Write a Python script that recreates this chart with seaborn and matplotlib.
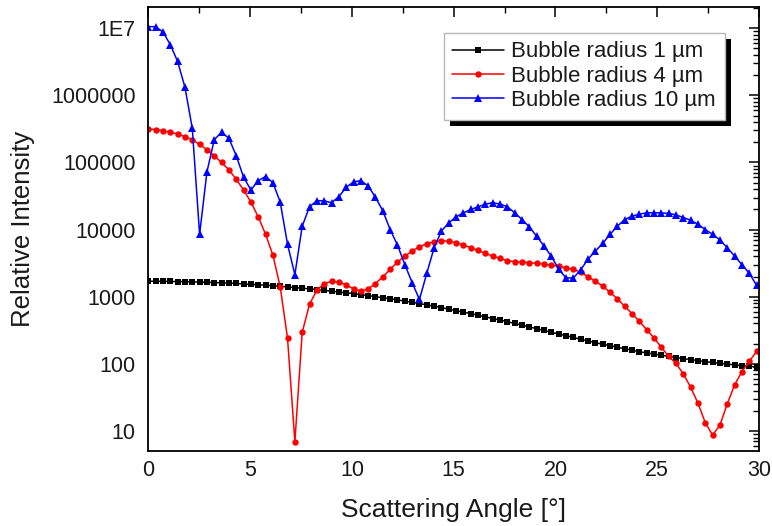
import numpy as np
import pandas as pd
import matplotlib
matplotlib.use("Agg")
import matplotlib.pyplot as plt
import seaborn as sns
from matplotlib.patches import Rectangle
from matplotlib.transforms import IdentityTransform
from matplotlib.ticker import MultipleLocator, LogLocator, NullFormatter

# ---- data ----
angle_step = 0.36
angles = [round(i * angle_step, 2) for i in range(84)]

radius_1um = [1706, 1702, 1694, 1690, 1683, 1679, 1667, 1656, 1641, 1626,
              1614, 1600, 1578, 1556, 1531, 1510, 1486, 1462, 1432, 1400,
              1371, 1340, 1312, 1279, 1245, 1211, 1178, 1146, 1114, 1076,
              1040, 1002, 968, 935, 899, 861, 826, 791, 757, 724,
              689, 655, 621, 590, 561, 531, 502, 474, 449, 424,
              400, 377, 355, 334, 315, 296, 279, 263, 248, 233,
              220, 207, 196, 187, 177, 168, 160, 152, 146, 140,
              135, 129, 124, 120, 116, 112, 108, 105, 102, 99,
              97, 94, 92, 90]

radius_4um = [316000, 308000, 298000, 282000, 266000, 242000, 218000, 186000, 155000, 126000,
              100000, 77600, 56200, 38900, 25700, 15500, 8510, 4170, 1406, 240,
              6.9, 295, 776, 1250, 1574, 1698, 1648, 1507, 1312, 1208,
              1312, 1574, 1982, 2553, 3281, 4027, 4786, 5572, 6166, 6607,
              6855, 6683, 6397, 5888, 5370, 4898, 4426, 4027, 3715, 3467,
              3311, 3281, 3214, 3133, 3062, 2951, 2858, 2692, 2570, 2323,
              1982, 1706, 1436, 1167, 931, 721, 561, 431, 324, 243,
              178, 129, 102, 71, 45, 26, 13.3, 8.7, 12.3, 25.4,
              48.8, 76.9, 109, 153]

radius_10um = [10570000, 10500000, 8810000, 5690000, 3200000, 1318000, 324000, 8510, 72400, 218800,
               281800, 229000, 125900, 60300, 38900, 53700, 61700, 50100, 25700, 6030,
               2138, 11220, 21900, 26900, 26900, 25100, 30900, 42700, 51300, 53700,
               44700, 30200, 19050, 10000, 5890, 3020, 1622, 912, 2239, 5370,
               9550, 12590, 15490, 17780, 19950, 21880, 23990, 25120, 23990, 21880,
               17780, 14130, 10960, 7943, 5690, 3981, 2570, 1905, 1905, 2512,
               3631, 4786, 6237, 8511, 11220, 14130, 15850, 16980, 17780, 17780,
               17780, 17380, 16600, 15140, 13800, 12020, 10000, 8511, 7000, 5370,
               4027, 3020, 2239, 1479]

series_labels = ["Bubble radius 1 \u00b5m", "Bubble radius 4 \u00b5m", "Bubble radius 10 \u00b5m"]
series_colors = ["#000000", "#ff0000", "#0000ff"]
series_markers = ["s", "o", "^"]
series_sizes = [4.2, 4.6, 5.4]

ytick_values = [10, 100, 1000, 10000, 100000, 1000000, 10000000]
ytick_labels = ["10", "100", "1000", "10000", "100000", "1000000", "1E7"]
xtick_values = [0, 5, 10, 15, 20, 25, 30]

df = pd.DataFrame({
    "angle": angles * 3,
    "intensity": radius_1um + radius_4um + radius_10um,
    "series": [series_labels[0]] * 84 + [series_labels[1]] * 84 + [series_labels[2]] * 84,
})

# ---- style ----
sns.set_theme(style="white")
plt.rcParams["font.family"] = ["Liberation Sans", "DejaVu Sans"]
text_color = "#1a1a1a"

fig = plt.figure(figsize=(7.72, 5.26), dpi=100)
ax = fig.add_axes([0.1921, 0.1432, 0.7911, 0.8430])

for lab, col, mk, ms in zip(series_labels, series_colors, series_markers, series_sizes):
    sub = df[df["series"] == lab]
    sns.lineplot(data=sub, x="angle", y="intensity", ax=ax, color=col, marker=mk,
                 markersize=ms, markeredgewidth=0, linewidth=1.1, label=lab, sort=False,
                 estimator=None)

ax.set_yscale("log")
ax.set_xlim(0, 30)
ax.set_ylim(5.1, 2.05e7)

ax.set_xticks(xtick_values)
ax.set_xticklabels([str(v) for v in xtick_values])
ax.xaxis.set_minor_locator(MultipleLocator(2.5))
ax.set_yticks(ytick_values)
ax.set_yticklabels(ytick_labels)
ax.yaxis.set_minor_locator(LogLocator(base=10, subs=np.arange(2, 10), numticks=20))
ax.yaxis.set_minor_formatter(NullFormatter())

ax.tick_params(which="both", direction="in", top=True, right=True, color="black",
               labelsize=15.5, labelcolor=text_color)
ax.tick_params(which="major", length=7, width=1.1)
ax.tick_params(which="minor", length=4, width=1.0)
ax.tick_params(axis="y", which="major", pad=9)
ax.tick_params(axis="x", which="major", pad=7)

for s in ax.spines.values():
    s.set_color("black")
    s.set_linewidth(1.3)

ax.set_xlabel("Scattering Angle [\u00b0]", fontsize=19, color=text_color, labelpad=12)
ax.set_ylabel("Relative Intensity", fontsize=18.5, color=text_color, labelpad=12)

leg = ax.legend(loc="upper right", bbox_to_anchor=(0.944, 0.943), borderaxespad=0,
                fontsize=16, frameon=True, fancybox=False, shadow=False,
                edgecolor="#b8b8b8", framealpha=1, numpoints=1, handlelength=2.3,
                handletextpad=0.35, labelspacing=0.14, borderpad=0.4)
leg.get_frame().set_linewidth(1.0)
for t in leg.get_texts():
    t.set_color(text_color)

fig.canvas.draw()
bb = leg.get_window_extent()
shadow = Rectangle((bb.x0 + 6, bb.y0 - 6), bb.width, bb.height, transform=IdentityTransform(),
                   facecolor="black", edgecolor="none", zorder=4.9, clip_on=False)
ax.add_patch(shadow)

fig.savefig("out.png", dpi=100, facecolor="white")
